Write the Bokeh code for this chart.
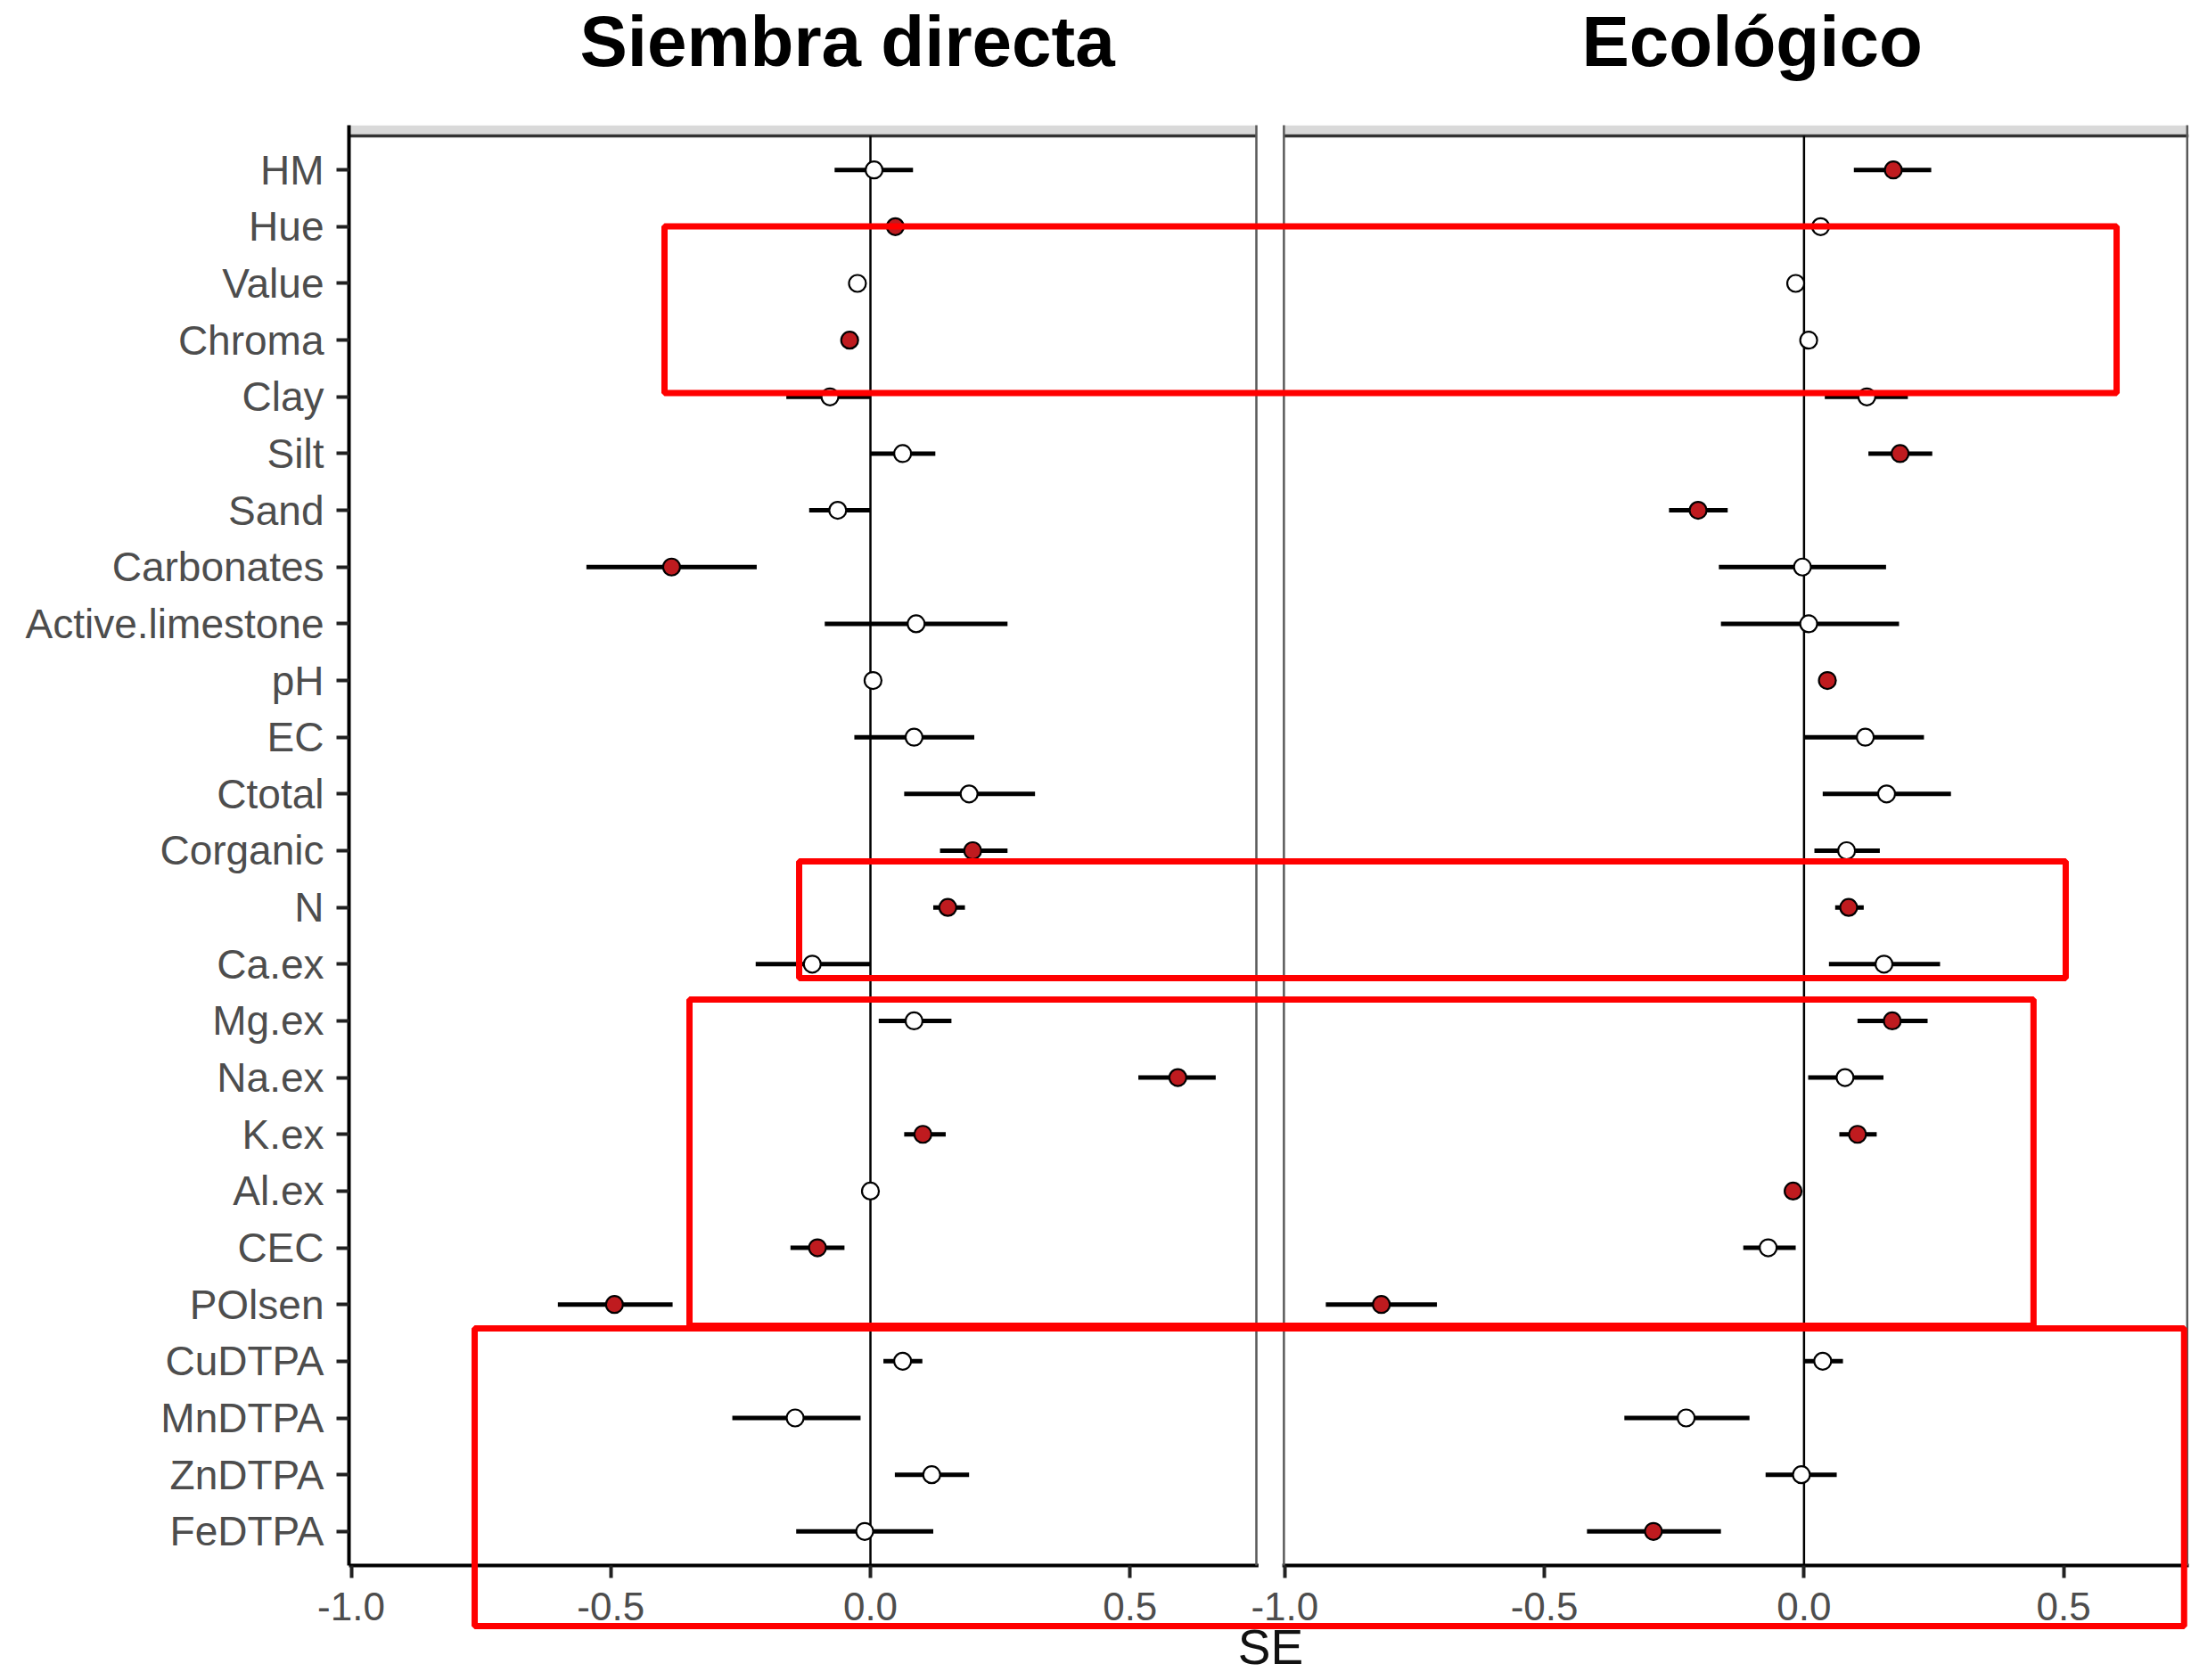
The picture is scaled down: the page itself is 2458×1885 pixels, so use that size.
from bokeh.plotting import figure
from bokeh.models import Range1d, FixedTicker, ColumnDataSource
from bokeh.core.properties import value
from bokeh.embed import file_html
from bokeh.resources import INLINE

# ---------------------------------------------------------------- data
variables = ["HM", "Hue", "Value", "Chroma", "Clay", "Silt", "Sand", "Carbonates",
             "Active.limestone", "pH", "EC", "Ctotal", "Corganic", "N", "Ca.ex",
             "Mg.ex", "Na.ex", "K.ex", "Al.ex", "CEC", "POlsen", "CuDTPA",
             "MnDTPA", "ZnDTPA", "FeDTPA"]

# Siembra directa: estimate, lower and upper interval ends, significant flag
sd_est = [0.007, 0.048, -0.025, -0.040, -0.078, 0.062, -0.063, -0.383, 0.088, 0.005,
          0.084, 0.190, 0.197, 0.149, -0.112, 0.084, 0.592, 0.101, 0.000, -0.102,
          -0.493, 0.062, -0.145, 0.118, -0.011]
sd_low = [-0.069, 0.040, -0.033, -0.048, -0.162, 0.000, -0.118, -0.547, -0.088, -0.003,
          -0.031, 0.065, 0.134, 0.121, -0.221, 0.016, 0.516, 0.065, -0.008, -0.154,
          -0.602, 0.025, -0.266, 0.047, -0.143]
sd_high = [0.082, 0.056, -0.017, -0.032, 0.000, 0.125, 0.000, -0.219, 0.264, 0.013,
           0.200, 0.317, 0.264, 0.182, 0.000, 0.156, 0.665, 0.145, 0.008, -0.050,
           -0.381, 0.100, -0.019, 0.190, 0.121]
sd_sig = [False, True, False, True, False, False, False, True, False, False,
          False, False, True, True, False, False, True, True, False, True,
          True, False, False, False, False]

# Ecológico
eco_est = [0.172, 0.032, -0.016, 0.009, 0.121, 0.185, -0.204, -0.003, 0.009, 0.045,
           0.118, 0.159, 0.082, 0.086, 0.154, 0.170, 0.079, 0.103, -0.021, -0.069,
           -0.814, 0.036, -0.227, -0.005, -0.290]
eco_low = [0.096, 0.024, -0.024, 0.001, 0.040, 0.124, -0.260, -0.164, -0.160, 0.037,
           0.000, 0.036, 0.020, 0.060, 0.048, 0.103, 0.008, 0.068, -0.029, -0.117,
           -0.921, 0.000, -0.346, -0.074, -0.418]
eco_high = [0.245, 0.040, -0.008, 0.017, 0.200, 0.247, -0.147, 0.158, 0.183, 0.053,
            0.231, 0.283, 0.146, 0.115, 0.262, 0.238, 0.153, 0.140, -0.013, -0.016,
            -0.707, 0.075, -0.105, 0.063, -0.160]
eco_sig = [True, False, False, False, False, True, True, False, False, True,
           False, False, False, True, False, True, False, True, True, False,
           True, False, False, False, True]

panel_titles = ["Siembra directa", "Ecológico"]
x_title = "SE"
x_ticks = [-1.0, -0.5, 0.0, 0.5]
x_tick_labels = ["-1.0", "-0.5", "0.0", "0.5"]

# ---------------------------------------------------------------- layout
W, H = 2458, 1885
FRAME_L, FRAME_R, FRAME_T, FRAME_B = 391, 2455, 140, 1756

X_MIN = -1.0043          # left edge of each panel, SE units
LEFT_END = 0.7433        # right edge of the left panel
ECO_START = -1.0017      # left edge of the right panel (own units)
ECO_END = 0.741          # right edge of the right panel
SHIFT = 1.798            # right-panel origin, in left-panel units
Y_LO, Y_TOP = 0.4, 25.6  # panel limits in row units
STRIP_TOP = 25.7885      # top of the strip above each panel

RED = "#bf1b1f"
TICK_GREY = "#4d4d4d"
BORDER_GREY = "#5a5a5a"
FONT = "Liberation Sans"

n = len(variables)
rows = [n - i for i in range(n)]

p = figure(width=W, height=H, output_backend="svg", toolbar_location=None,
           x_range=Range1d(X_MIN, ECO_END + SHIFT), y_range=Range1d(Y_LO, STRIP_TOP),
           min_border_left=FRAME_L, min_border_right=W - FRAME_R,
           min_border_top=FRAME_T, min_border_bottom=H - FRAME_B)
p.extra_x_ranges = {"eco": Range1d(X_MIN - SHIFT, ECO_END)}
p.outline_line_color = None
p.grid.visible = False
p.background_fill_color = "white"
p.border_fill_color = "white"

# axes
p.xaxis.ticker = FixedTicker(ticks=x_ticks + [t + SHIFT for t in x_ticks])
p.xaxis.major_label_overrides = {**{t: s for t, s in zip(x_ticks, x_tick_labels)},
                                 **{t + SHIFT: s for t, s in zip(x_ticks, x_tick_labels)}}
p.yaxis.ticker = FixedTicker(ticks=rows)
p.yaxis.major_label_overrides = {r: v for r, v in zip(rows, variables)}
for ax in (p.xaxis, p.yaxis):
    ax.axis_line_width = 4
    ax.axis_line_color = "black"
    ax.major_tick_line_width = 4
    ax.major_tick_line_color = "#222222"
    ax.major_tick_out = 14
    ax.major_tick_in = 0
    ax.minor_tick_line_color = None
    ax.major_label_text_color = TICK_GREY
    ax.major_label_text_font = FONT
p.xaxis.major_label_text_font_size = "44px"
p.xaxis.major_label_standoff = 16
p.yaxis.major_label_text_font_size = "46px"
p.yaxis.major_label_standoff = 14

# strips above the panels
for rng, (a, b) in (("default", (X_MIN, LEFT_END)), ("eco", (ECO_START, ECO_END))):
    p.quad(left=[a], right=[b], bottom=[Y_TOP], top=[STRIP_TOP], x_range_name=rng,
           fill_color="#d9d9d9", line_color=None)
    p.segment(x0=[a], x1=[b], y0=[Y_TOP], y1=[Y_TOP], x_range_name=rng,
              line_color="#333333", line_width=3.5)
    p.segment(x0=[0], x1=[0], y0=[Y_LO], y1=[Y_TOP], x_range_name=rng,
              line_color="black", line_width=2.5)

# white gap between the panels, then the thin panel borders
p.quad(left=[LEFT_END + 0.004], right=[ECO_START + SHIFT - 0.003],
       bottom=[Y_LO - 0.08], top=[STRIP_TOP + 0.01],
       fill_color="white", line_color=None, level="overlay")
p.segment(x0=[LEFT_END, ECO_START + SHIFT, ECO_END + SHIFT - 0.003],
          x1=[LEFT_END, ECO_START + SHIFT, ECO_END + SHIFT - 0.003],
          y0=[Y_LO] * 3, y1=[STRIP_TOP] * 3,
          line_color=BORDER_GREY, line_width=2.5, level="overlay")

# intervals and estimates
for rng, est, low, high, sig in (("default", sd_est, sd_low, sd_high, sd_sig),
                                 ("eco", eco_est, eco_low, eco_high, eco_sig)):
    src = ColumnDataSource(dict(
        y=rows, est=est, low=low, high=high,
        fill=[RED if s else "white" for s in sig]))
    p.segment(x0="low", x1="high", y0="y", y1="y", source=src, x_range_name=rng,
              line_color="black", line_width=5)
    p.scatter(x="est", y="y", source=src, x_range_name=rng, size=19,
              fill_color="fill", line_color="black", line_width=2.2)

# highlight frames (left-panel SE units, row units)
box_left = [-0.3966, -0.1373, -0.3485, -0.7622]
box_right = [2.400, 2.302, 2.240, 2.530]
box_top = [24.005, 12.811, 10.376, 4.579]
box_bottom = [21.067, 10.753, 4.626, -0.669]
p.quad(left=box_left, right=box_right, top=box_top, bottom=box_bottom,
       fill_color=None, line_color="#ff0000", line_width=7, level="overlay")

# panel titles and axis title
p.text(x=[-0.0446], y=[27.27], text=[panel_titles[0]], text_align="center",
       text_baseline="alphabetic", text_font=value(FONT), text_font_style="bold",
       text_font_size="80px", text_color="black", level="overlay")
p.text(x=[-0.100], y=[27.27], text=[panel_titles[1]], x_range_name="eco",
       text_align="center", text_baseline="alphabetic", text_font=value(FONT),
       text_font_style="bold", text_font_size="80px", text_color="black",
       level="overlay")
p.text(x=[0.7708], y=[-1.03], text=[x_title], text_align="center",
       text_baseline="alphabetic", text_font=value(FONT), text_font_size="55px",
       text_color="#111111", level="overlay")

open("out.html", "w").write(file_html(p, INLINE))
